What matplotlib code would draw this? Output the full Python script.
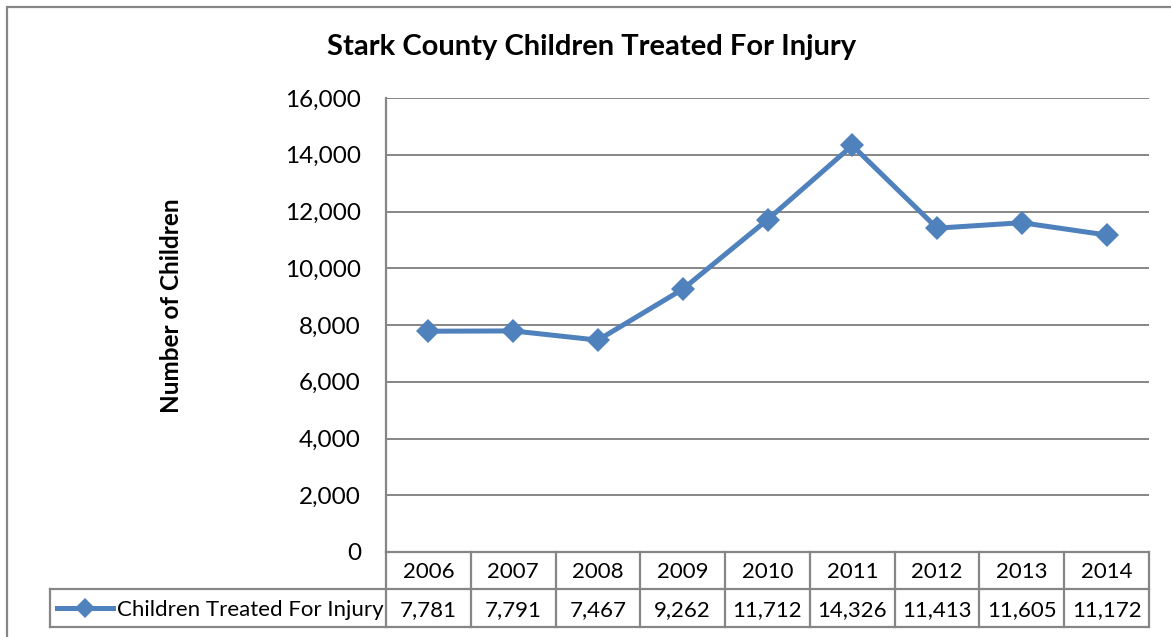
import matplotlib.pyplot as plt
import matplotlib.transforms as mtransforms
from matplotlib.patches import Rectangle
from matplotlib.lines import Line2D

# ===== DATA ===== #
years = ["2006", "2007", "2008", "2009", "2010", "2011", "2012", "2013", "2014"]
children = [7781, 7791, 7467, 9262, 11712, 14326, 11413, 11605, 11172]
series_name = "Children Treated For Injury"
y_ticks = [0, 2000, 4000, 6000, 8000, 10000, 12000, 14000, 16000]

# ===== STYLE ===== #
plt.rcParams['font.family'] = ['Lato', 'DejaVu Sans']
blue = '#4F81BD'
grid_gray = '#868686'
W, H = 1171, 637

fig = plt.figure(figsize=(W / 100, H / 100), dpi=100)

# outer chart border (runs off the right and bottom edges)
fig.patches.append(Rectangle((7 / W, -0.05), 1.1, 1 - 7 / H + 0.05,
                             transform=fig.transFigure, fill=False,
                             edgecolor=grid_gray, linewidth=1.6))

left, right, top, bottom = 386, 1149, 98, 552
ax = fig.add_axes([left / W, 1 - bottom / H, (right - left) / W, (bottom - top) / H])

x = list(range(len(years)))
ax.plot(x, children, color=blue, linewidth=3.6, marker='D', markersize=12,
        markeredgewidth=0, zorder=3)

ax.set_xlim(-0.5, len(years) - 0.5)
ax.set_ylim(0, 16000)
ax.set_yticks(y_ticks)
ax.set_yticklabels(["{:,}".format(v) for v in y_ticks], fontsize=17.5)
ax.tick_params(axis='y', length=0, pad=18)
ax.set_xticks([])
ax.yaxis.grid(True, color=grid_gray, linewidth=1.4)
ax.set_axisbelow(True)
for side in ['top', 'right', 'bottom']:
    ax.spines[side].set_visible(False)
ax.spines['left'].set_color(grid_gray)
ax.spines['left'].set_linewidth(1.6)

ax.set_ylabel("Number of Children", fontsize=17.5, fontweight='bold')
ax.yaxis.set_label_coords(-0.266, 0.542)
fig.text(592 / W, 1 - 47 / H, "Stark County Children Treated For Injury",
         ha='center', va='center', fontsize=21, fontweight='bold')

# ===== DATA TABLE ===== #
ph = bottom - top
row1 = -(589 - bottom) / ph
row2 = -(627 - bottom) / ph
leg_left = -(left - 50) / (right - left)
bt = mtransforms.blended_transform_factory(ax.transData, ax.transAxes)
lkw = dict(color=grid_gray, linewidth=1.6, clip_on=False)

n = len(years)
# horizontal lines
ax.plot([-0.5, n - 0.5], [0, 0], transform=bt, **lkw)
ax.plot([leg_left, 1], [row1, row1], transform=ax.transAxes, **lkw)
ax.plot([leg_left, 1], [row2, row2], transform=ax.transAxes, **lkw)
# vertical lines
ax.plot([0, 0], [0, row2], transform=ax.transAxes, **lkw)
ax.plot([leg_left, leg_left], [row1, row2], transform=ax.transAxes, **lkw)
for i in range(n):
    ax.plot([i + 0.5, i + 0.5], [0, row2], transform=bt, **lkw)

for i, (yr, v) in enumerate(zip(years, children)):
    ax.text(i, row1 / 2 - 0.004, yr, transform=bt, ha='center', va='center', fontsize=16)
    ax.text(i, (row1 + row2) / 2 - 0.004, "{:,}".format(v), transform=bt,
            ha='center', va='center', fontsize=16)

# legend key inside the table
ly = (row1 + row2) / 2
ax.add_line(Line2D([-(left - 57) / (right - left), -(left - 113) / (right - left)], [ly, ly],
                   transform=ax.transAxes, color=blue, linewidth=3.6, clip_on=False))
ax.add_line(Line2D([-(left - 85) / (right - left)], [ly], transform=ax.transAxes,
                   marker='D', markersize=10, color=blue, markeredgewidth=0, clip_on=False))
ax.text(-(left - 117) / (right - left), ly - 0.004, series_name, transform=ax.transAxes,
        ha='left', va='center', fontsize=16)

fig.savefig("out.png", dpi=100)
